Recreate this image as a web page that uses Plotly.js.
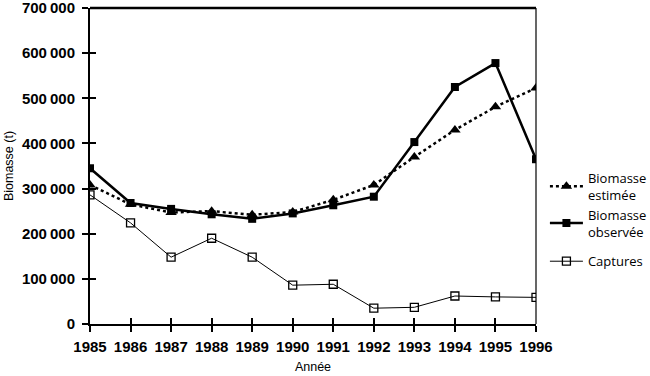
<!DOCTYPE html>
<html><head><meta charset="utf-8">
<script src="https://cdn.plot.ly/plotly-3.0.1.min.js"></script>
<style>html,body{margin:0;padding:0;background:#fff}#c{width:650px;height:376px}</style>
</head><body><div id="c"></div>
<script>
const years = [1985,1986,1987,1988,1989,1990,1991,1992,1993,1994,1995,1996];
const biomasseEstimee = [308000,265000,247000,250000,242000,248000,275000,308000,370000,430000,481000,523000];
const biomasseObservee = [345000,268000,255000,243000,233000,245000,263000,282000,403000,525000,578000,365000];
const captures = [286000,224000,148000,190000,148000,86000,88000,35000,37000,62000,60000,59000];
const yTickVals = [0,100000,200000,300000,400000,500000,600000,700000];
const yTickText = ['0','100\u2009000','200\u2009000','300\u2009000','400\u2009000','500\u2009000','600\u2009000','700\u2009000'];

const yTickFont = {family:'Liberation Sans, Arial, sans-serif', size:15, color:'#000', weight:'bold'};
const xTickFont = {family:'Liberation Sans, Arial, sans-serif', size:15, color:'#000', weight:'bold'};
const legFont = {family:'Open Sans, DejaVu Sans, sans-serif', size:13, color:'#000'};
const traces = [
  {x:years, y:biomasseEstimee, name:'Biomasse<br>estimée', mode:'lines+markers',
   line:{color:'#000', width:2.5, dash:'dot'}, marker:{symbol:'triangle-up', size:10, color:'#000'}},
  {x:years, y:biomasseObservee, name:'Biomasse<br>observée', mode:'lines+markers',
   line:{color:'#000', width:2.5}, marker:{symbol:'square', size:8, color:'#000'}},
  {x:years, y:captures, name:'Captures', mode:'lines+markers', legend:'legend2',
   line:{color:'#000', width:1}, marker:{symbol:'square-open', size:8, color:'#000', line:{width:1.3}}},
  {x:years, y:captures, xaxis:'x2', yaxis:'y2', showlegend:false, hoverinfo:'skip', mode:'none'}
];
const layout = {
  width:650, height:376,
  margin:{l:90, r:114, t:8, b:52, autoexpand:false},
  paper_bgcolor:'#fff', plot_bgcolor:'#fff',
  showlegend:true,
  legend:{x:1.02, xanchor:'left', y:0.51, yanchor:'top', font:legFont, itemwidth:33, bgcolor:'rgba(0,0,0,0)'},
  legend2:{x:1.02, xanchor:'left', y:0.246, yanchor:'top', font:legFont, itemwidth:33, bgcolor:'rgba(0,0,0,0)'},
  xaxis:{range:[1985,1996], tickvals:years, ticks:'outside', ticklen:6, tickwidth:2, tickcolor:'#000',
    showline:true, linewidth:2, linecolor:'#000', showgrid:false, zeroline:false, ticklabeloverflow:'allow', ticklabelstandoff:2,
    tickfont:xTickFont, title:{text:'Année', font:{family:'Liberation Sans, Arial, sans-serif', size:12.5, color:'#000'}, standoff:8}},
  yaxis:{range:[0,700000], tickvals:yTickVals, ticktext:yTickText, ticks:'outside', ticklen:6, tickwidth:2, tickcolor:'#000',
    showline:true, linewidth:2, linecolor:'#000', showgrid:false, zeroline:false, ticklabeloverflow:'allow', ticklabelstandoff:4,
    tickfont:yTickFont, title:{text:'Biomasse (t)', font:{family:'Liberation Sans, Arial, sans-serif', size:12.5, color:'#000'}, standoff:6}},
  xaxis2:{overlaying:'x', range:[1985,1996], tickvals:years, ticks:'inside', ticklen:6, tickwidth:2, tickcolor:'#000', showticklabels:false, showgrid:false, zeroline:false, showline:false, side:'bottom', anchor:'y'},
  yaxis2:{overlaying:'y', range:[0,700000], tickvals:yTickVals, ticks:'inside', ticklen:6, tickwidth:2, tickcolor:'#000', showticklabels:false, showgrid:false, zeroline:false, showline:false, side:'left', anchor:'x'},
  shapes:[
    {type:'line', xref:'paper', yref:'paper', x0:0, x1:1, y0:1, y1:1, line:{color:'#000', width:2.5}},
    {type:'line', xref:'paper', yref:'paper', x0:1, x1:1, y0:0, y1:1, line:{color:'#000', width:1.2}}
  ]
};
Plotly.newPlot('c', traces, layout, {displayModeBar:false, staticPlot:true});
</script></body></html>
